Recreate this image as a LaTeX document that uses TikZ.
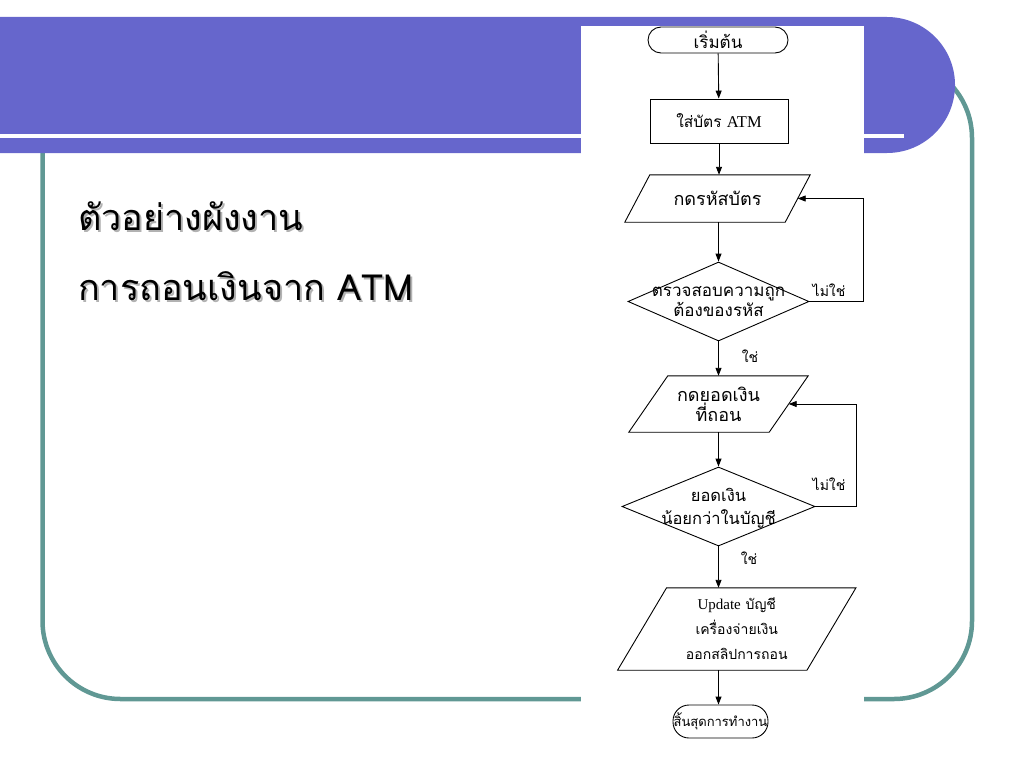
\documentclass[tikz,border=0pt]{standalone}
\usepackage{fontspec}
\newfontfamily\thai[Script=Thai]{Loma}
\newfontfamily\lser{Liberation Serif}
\usetikzlibrary{arrows.meta,calc,shapes.geometric}
\definecolor{band}{RGB}{102,102,204}
\definecolor{framec}{RGB}{96,152,148}
\begin{document}
\begin{tikzpicture}[x=1pt,y=-1pt,
  flow/.style={draw=black, line width=0.9pt, inner sep=0pt},
  txt/.style={align=center, inner sep=0pt},
  arr/.style={draw=black, line width=0.9pt, -{Triangle[length=8pt,width=6pt]}},
  lab/.style={font=\thai\fontsize{14}{16}\selectfont, inner sep=0pt},
  ttl/.style={font=\thai\fontsize{36}{40}\selectfont, anchor=base west, inner sep=0pt}
]
\useasboundingbox (0,0) rectangle (1024,768);
% frame
\draw[framec, line width=4.5pt, rounded corners=78pt] (42.5,60) rectangle (972,699);
% band
\fill[band] (0,17) -- (887,17) arc[start angle=-90, end angle=90, radius=68] -- (0,153) -- cycle;
\fill[white] (0,134) rectangle (904,138);
% flowchart background
\fill[white] (581,26) rectangle (864,762);
% title
\node[ttl, text=black!30] (t1s) at (80,232) {ตัวอย่างผังงาน};
\node[ttl] (t1) at (78,230) {ตัวอย่างผังงาน};
\node[ttl, text=black!30] (t2s) at (80,302) {การถอนเงินจาก ATM};
\node[ttl] (t2) at (78,300) {การถอนเงินจาก ATM};
% flowchart nodes
\node[flow, txt, font=\thai\fontsize{17}{20}\selectfont, rounded corners=13pt, minimum width=140pt, minimum height=26pt] (start) at (718,40) {เริ่มต้น};
\node[flow, txt, font=\thai\fontsize{15.5}{19}\selectfont, minimum width=138pt, minimum height=44pt] (card) at (719,121) {ใส่บัตร {\lser\fontsize{16.5}{19}\selectfont ATM}};
\node[txt, font=\thai\fontsize{18}{20}\selectfont, minimum width=160pt, minimum height=47pt] (p1) at (717.5,198.5) {กดรหัสบัตร};
\draw[flow] ($(p1.north west)+(12.5,0)$) -- ($(p1.north east)+(12.5,0)$) -- ($(p1.south east)+(-12.5,0)$) -- ($(p1.south west)+(-12.5,0)$) -- cycle;
\node[flow, diamond, minimum width=181pt, minimum height=79pt] (d1) at (718.5,301.5) {};
\node[txt, font=\thai\fontsize{17}{20}\selectfont] (d1t) at (718.5,301.5) {ตรวจสอบความถูก\\ต้องของรหัส};
\node[txt, font=\thai\fontsize{18}{20}\selectfont, minimum width=140pt, minimum height=56pt] (p2) at (718.5,404) {กดยอดเงิน\\ที่ถอน};
\draw[flow] ($(p2.north west)+(19.5,0)$) -- ($(p2.north east)+(19.5,0)$) -- ($(p2.south east)+(-19.5,0)$) -- ($(p2.south west)+(-19.5,0)$) -- cycle;
\node[flow, diamond, minimum width=193pt, minimum height=79pt] (d2) at (718.5,506.5) {};
\node[txt, font=\thai\fontsize{16.5}{23}\selectfont] (d2t) at (718.5,508) {ยอดเงิน\\น้อยกว่าในบัญชี};
\node[txt, font=\thai\fontsize{14}{25}\selectfont, minimum width=189pt, minimum height=82pt] (p3) at (736.75,629) {{\lser\fontsize{15}{25}\selectfont Update} บัญชี\\เครื่องจ่ายเงิน\\ออกสลิปการถอน};
\draw[flow] ($(p3.north west)+(24.5,0)$) -- ($(p3.north east)+(24.5,0)$) -- ($(p3.south east)+(-24.5,0)$) -- ($(p3.south west)+(-24.5,0)$) -- cycle;
\node[flow, txt, font=\thai\fontsize{13}{16}\selectfont, rounded corners=16pt, minimum width=95pt, minimum height=33pt] (stop) at (720.5,721.5) {สิ้นสุดการทำงาน};
% connectors
\coordinate (l1) at (863,300);
\coordinate (l2) at (856,500);
\draw[arr] (start) -- (card);
\draw[arr] (card.south) -- (card.south |- p1.north);
\draw[arr] (d1.north |- p1.south) -- (d1.north);
\draw[arr] (d1.south) -- (d1.south |- p2.north);
\draw[arr] (d2.north |- p2.south) -- (d2.north);
\draw[arr] (d2.south) -- (d2.south |- p3.north);
\draw[arr] (d2.south |- p3.south) -- (d2.south |- stop.north);
\draw[arr] (d1.east) -- (d1.east -| l1) |- (p1.east);
\draw[arr] (d2.east) -- (d2.east -| l2) |- (p2.east);
% labels
\node[lab] (n1) at (829,290) {ไม่ใช่};
\node[lab] (y1) at (750,356) {ใช่};
\node[lab] (n2) at (829,484) {ไม่ใช่};
\node[lab] (y2) at (749,558) {ใช่};
\end{tikzpicture}
\end{document}
